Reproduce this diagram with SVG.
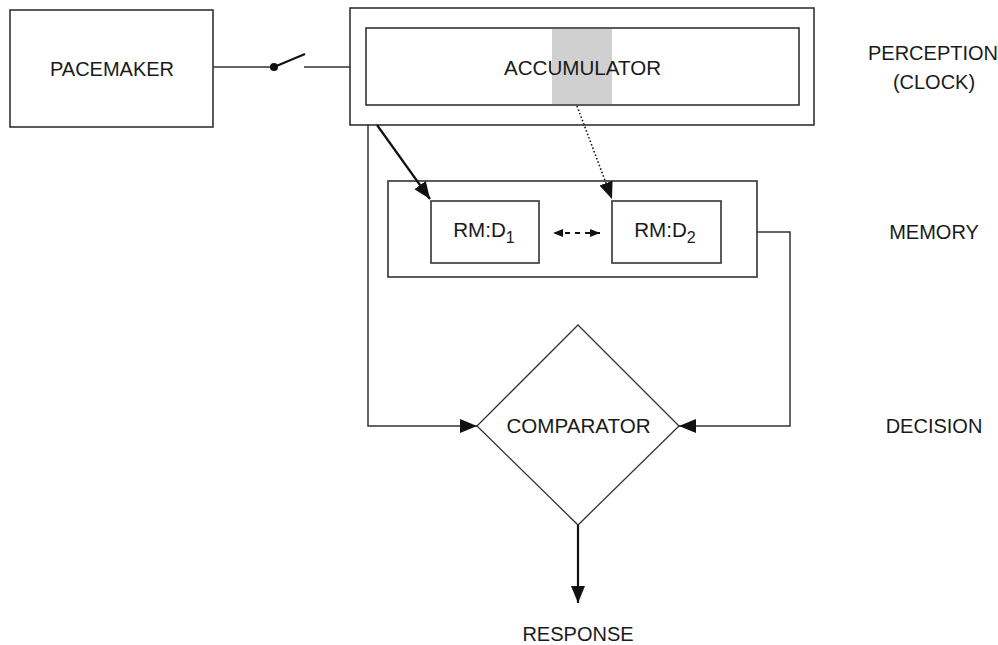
<svg xmlns="http://www.w3.org/2000/svg" width="998" height="645" viewBox="0 0 998 645">
<style>
  .box { fill: #fff; stroke: #333; stroke-width: 1.6; }
  .lbl { font-family: "Liberation Sans", Arial, sans-serif; font-size: 20px; fill: #1a1a1a; text-anchor: middle; }
  .big { font-size: 20.6px; }
  .sub { font-size: 16px; }
  .ln { fill: none; stroke: #333; stroke-width: 1.5; }
  .thick { fill: none; stroke: #111; stroke-width: 2.2; }
</style>
<defs>
  <marker id="ah" markerUnits="userSpaceOnUse" markerWidth="20" markerHeight="16" refX="17" refY="7" orient="auto">
    <path d="M0,0 L17,7 L0,14 Z" fill="#111"/>
  </marker>
  <marker id="sah" markerUnits="userSpaceOnUse" markerWidth="12" markerHeight="10" refX="10" refY="4" orient="auto">
    <path d="M0,0 L10,4 L0,8 Z" fill="#111"/>
  </marker>
  <marker id="sahs" markerUnits="userSpaceOnUse" markerWidth="12" markerHeight="10" refX="0" refY="4" orient="auto">
    <path d="M10,0 L0,4 L10,8 Z" fill="#111"/>
  </marker>
</defs>

<g id="pacemaker">
  <rect class="box" x="10" y="10" width="203" height="117"/>
  <text class="lbl" x="112" y="76">PACEMAKER</text>
</g>

<g id="accumulator">
  <rect class="box" x="350" y="8" width="464" height="117"/>
  <rect class="box" x="366" y="28" width="433" height="77"/>
  <rect x="552" y="29" width="60" height="75" fill="#d0d0d0"/>
  <text class="lbl big" x="582.5" y="75">ACCUMULATOR</text>
</g>

<g id="memory">
  <rect class="box" x="388" y="181" width="369" height="96"/>
</g>

<g id="rmd1">
  <rect class="box" x="431" y="201" width="108" height="62"/>
  <text class="lbl big" x="484" y="237">RM:D<tspan class="sub" dy="6">1</tspan></text>
</g>

<g id="rmd2">
  <rect class="box" x="612" y="201" width="109" height="62"/>
  <text class="lbl big" x="665" y="237">RM:D<tspan class="sub" dy="6">2</tspan></text>
</g>

<g id="comparator">
  <polygon class="box" points="578,325 679,426 578,525 477,426" style="stroke-width:1.3"/>
  <text class="lbl big" x="578.5" y="433">COMPARATOR</text>
</g>

<g id="connectors">
  <line class="ln" x1="213" y1="67" x2="274" y2="67"/>
  <circle cx="274" cy="67" r="4" fill="#111"/>
  <line x1="274" y1="67" x2="305" y2="54" stroke="#111" stroke-width="2"/>
  <line class="ln" x1="304" y1="67" x2="350" y2="67"/>
  <line class="thick" x1="377" y1="125" x2="430" y2="199" marker-end="url(#ah)"/>
  <line x1="577" y1="106" x2="612" y2="199" stroke="#111" stroke-width="1.6" stroke-dasharray="1.5 2.2" marker-end="url(#ah)"/>
  <line x1="553" y1="233" x2="600" y2="233" stroke="#111" stroke-width="2" stroke-dasharray="5 5" stroke-dashoffset="-2" marker-start="url(#sahs)" marker-end="url(#sah)"/>
  <polyline class="ln" points="368,125 368,426 477,426" marker-end="url(#ah)"/>
  <polyline class="ln" points="757,232 790,232 790,426 679,426" marker-end="url(#ah)"/>
  <line class="thick" x1="578" y1="525" x2="578" y2="603" marker-end="url(#ah)"/>
</g>

<g id="labels">
  <text class="lbl" x="933" y="60">PERCEPTION</text>
  <text class="lbl" x="934" y="89">(CLOCK)</text>
  <text class="lbl" x="934" y="239">MEMORY</text>
  <text class="lbl" x="934" y="433">DECISION</text>
  <text class="lbl" x="578" y="641">RESPONSE</text>
</g>
</svg>
